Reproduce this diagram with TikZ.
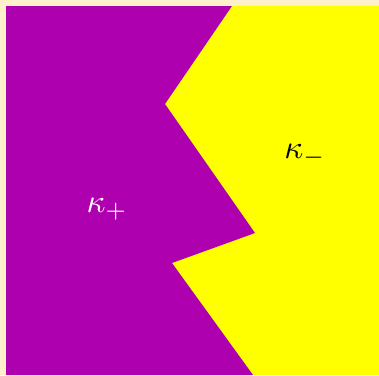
\documentclass[tikz,border=0pt]{standalone}
\usepackage{graphicx}
\definecolor{cream}{RGB}{255,240,204}
\definecolor{purp}{RGB}{174,0,174}
\definecolor{yel}{RGB}{255,255,0}
\tikzset{lbl/.style={inner sep=0pt}}
\begin{document}
\begin{tikzpicture}[x=1pt,y=-1pt]
\useasboundingbox (0,0) rectangle (379,375);
\fill[cream] (0,0) rectangle (379,375);
\fill[yel] (6,6) rectangle (379,375);
\fill[purp] (6,6) -- (232,6) -- (165,104) -- (255,233) -- (172,263) -- (253,375) -- (6,375) -- cycle;
\node[lbl, text=white] (kp) at (107,209) {\scalebox{3.3}{$\kappa_+$}};
\node[lbl, text=black] (km) at (305,155) {\scalebox{3.3}{$\kappa_-$}};
\end{tikzpicture}
\end{document}
